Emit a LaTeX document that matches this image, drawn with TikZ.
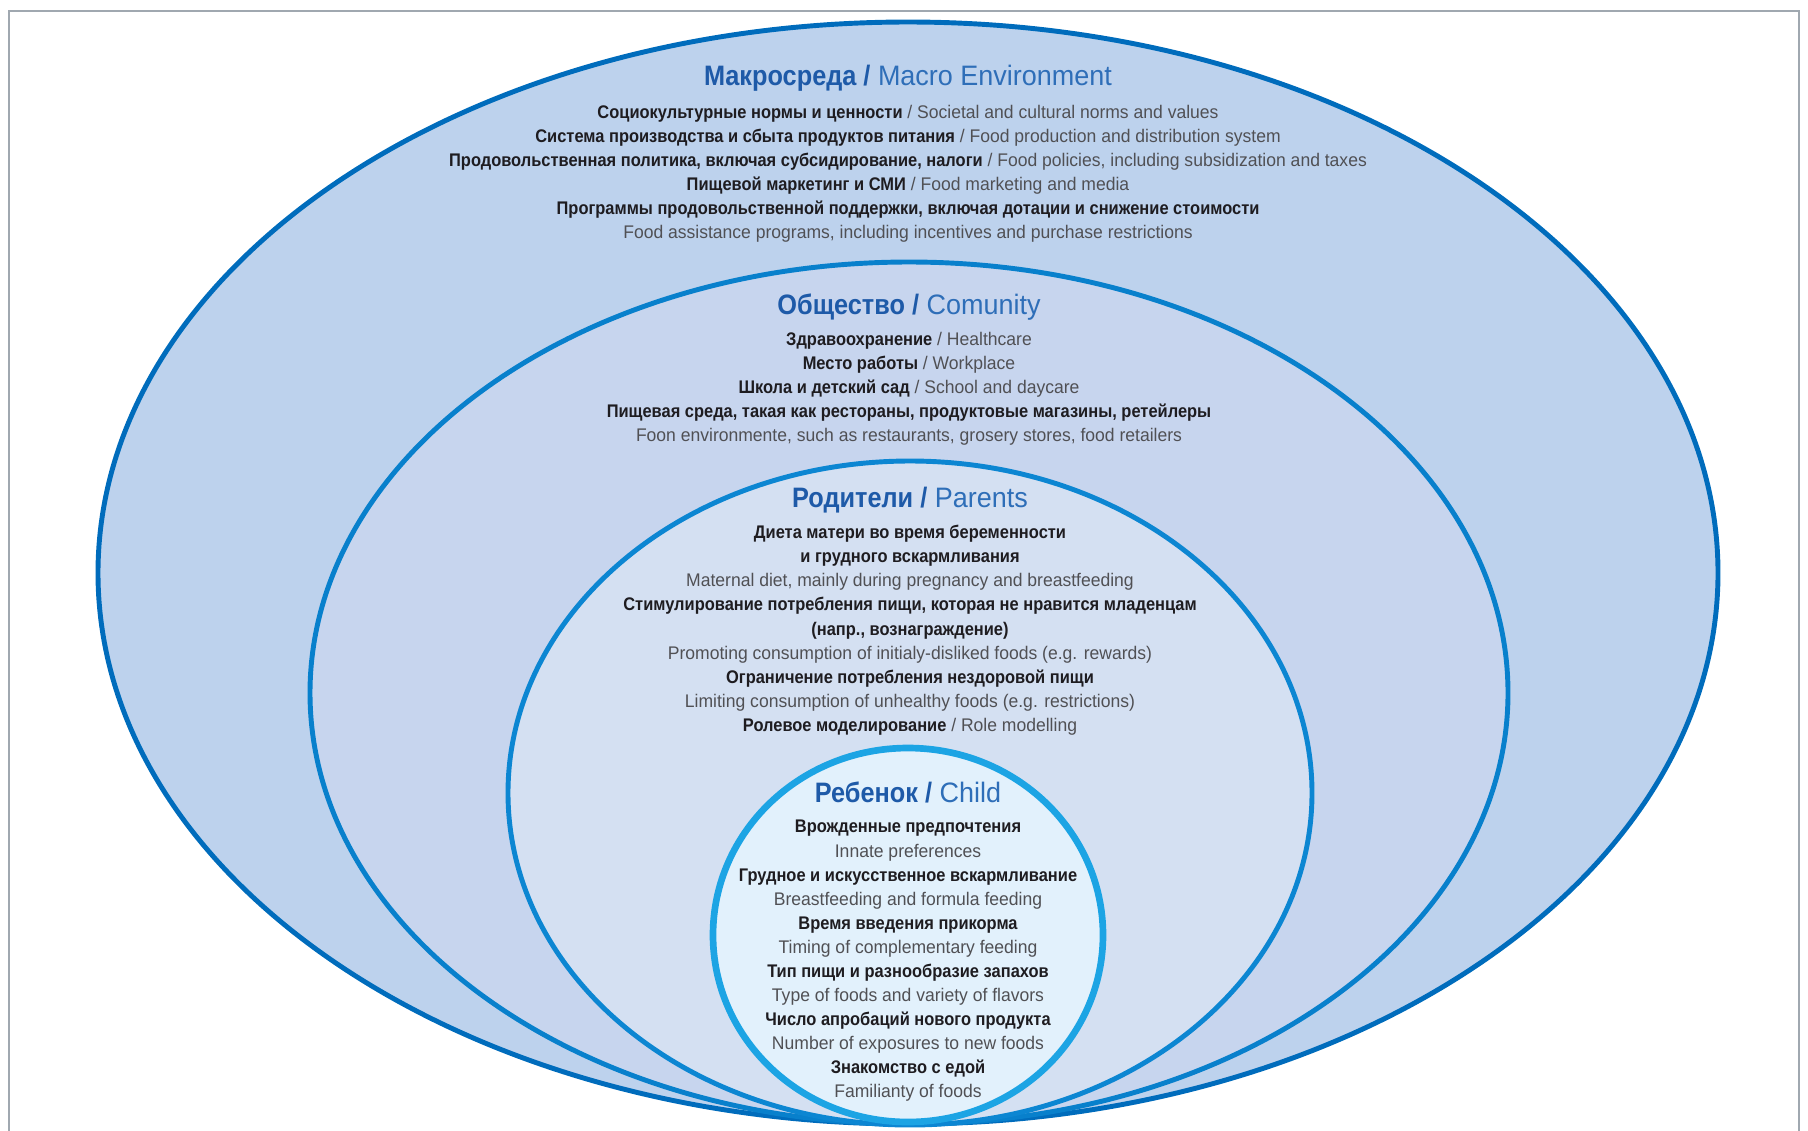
\documentclass[tikz,border=0pt]{standalone}
\usepackage{fontspec}
\setmainfont{Liberation Sans}[UprightFeatures={FakeStretch=0.96}, BoldFeatures={FakeStretch=0.90}]
\usepackage{xcolor}
\usepackage{tikz}
\definecolor{macrofill}{RGB}{189,210,237}
\definecolor{macroline}{RGB}{0,108,188}
\definecolor{comfill}{RGB}{199,213,238}
\definecolor{comline}{RGB}{8,128,204}
\definecolor{parfill}{RGB}{212,224,242}
\definecolor{parline}{RGB}{12,134,210}
\definecolor{childfill}{RGB}{226,241,252}
\definecolor{childline}{RGB}{28,164,228}
\definecolor{titleblue}{RGB}{30,90,168}
\definecolor{titlelight}{RGB}{46,110,184}
\definecolor{rutext}{RGB}{30,28,32}
\definecolor{entext}{RGB}{80,80,84}
\definecolor{framegray}{RGB}{160,168,176}

\newcommand{\rutxt}[1]{\textbf{\color{rutext}#1}}
\newcommand{\entxt}[1]{{\color{entext}#1}}
\newcommand{\ringhead}[2]{\textbf{\color{titleblue}#1 /} {\color{titlelight}#2}}

\begin{document}
\begin{tikzpicture}[x=0.02cm, y=-0.02cm,
  ringline/.style={line width=2.8pt},
  ringtitle/.style={font=\fontsize{16}{19}\selectfont, inner sep=0pt, anchor=base},
  ringtext/.style={align=center, font=\fontsize{10.4}{13.7}\selectfont, inner sep=0pt, anchor=north}]
\useasboundingbox (0,0) rectangle (1808,1130);

% Frame
\draw[framegray, line width=1.2pt] (9,1140) -- (9,11) -- (1799,11) -- (1799,1140);

% Draw the nested rings
\draw[ringline, draw=macroline, fill=macrofill] (908,573) ellipse [x radius=810, y radius=551];
\draw[ringline, draw=comline, fill=comfill] (909,693) ellipse [x radius=599, y radius=431];
\draw[ringline, draw=parline, fill=parfill] (910,793) ellipse [x radius=402, y radius=332];
\draw[ringline, line width=3.8pt, draw=childline, fill=childfill] (908,935) ellipse [x radius=195, y radius=187];

% Macro environment
\node[ringtitle] (macrotitle) at (908,85) {\ringhead{Макросреда}{Macro Environment}};
\node[ringtext] (macrotext) at (908,105) {%
\rutxt{Социокультурные нормы и ценности} \entxt{/ Societal and cultural norms and values}\\
\rutxt{Система производства и сбыта продуктов питания} \entxt{/ Food production and distribution system}\\
\rutxt{Продовольственная политика, включая субсидирование, налоги} \entxt{/ Food policies, including subsidization and taxes}\\
\rutxt{Пищевой маркетинг и СМИ} \entxt{/ Food marketing and media}\\
\rutxt{Программы продовольственной поддержки, включая дотации и снижение стоимости}\\
\entxt{Food assistance programs, including incentives and purchase restrictions}};

% Community
\node[ringtitle] (comtitle) at (909,314) {\ringhead{Общество}{Comunity}};
\node[ringtext] (comtext) at (909,332) {%
\rutxt{Здравоохранение} \entxt{/ Healthcare}\\
\rutxt{Место работы} \entxt{/ Workplace}\\
\rutxt{Школа и детский сад} \entxt{/ School and daycare}\\
\rutxt{Пищевая среда, такая как рестораны, продуктовые магазины, ретейлеры}\\
\entxt{Foon environmente, such as restaurants, grosery stores, food retailers}};

% Parents
\node[ringtitle] (partitle) at (910,507) {\ringhead{Родители}{Parents}};
\node[ringtext] (partext) at (910,525) {%
\rutxt{Диета матери во время беременности}\\
\rutxt{и грудного вскармливания}\\
\entxt{Maternal diet, mainly during pregnancy and breastfeeding}\\
\rutxt{Стимулирование потребления пищи, которая не нравится младенцам}\\
\rutxt{(напр., вознаграждение)}\\
\entxt{Promoting consumption of initialy-disliked foods (e.g. rewards)}\\
\rutxt{Ограничение потребления нездоровой пищи}\\
\entxt{Limiting consumption of unhealthy foods (e.g. restrictions)}\\
\rutxt{Ролевое моделирование} \entxt{/ Role modelling}};

% Child
\node[ringtitle] (childtitle) at (908,802) {\ringhead{Ребенок}{Child}};
\node[ringtext] (childtext) at (908,820) {%
\rutxt{Врожденные предпочтения}\\
\entxt{Innate preferences}\\
\rutxt{Грудное и искусственное вскармливание}\\
\entxt{Breastfeeding and formula feeding}\\
\rutxt{Время введения прикорма}\\
\entxt{Timing of complementary feeding}\\
\rutxt{Тип пищи и разнообразие запахов}\\
\entxt{Type of foods and variety of flavors}\\
\rutxt{Число апробаций нового продукта}\\
\entxt{Number of exposures to new foods}\\
\rutxt{Знакомство с едой}\\
\entxt{Familianty of foods}};
\end{tikzpicture}
\end{document}
